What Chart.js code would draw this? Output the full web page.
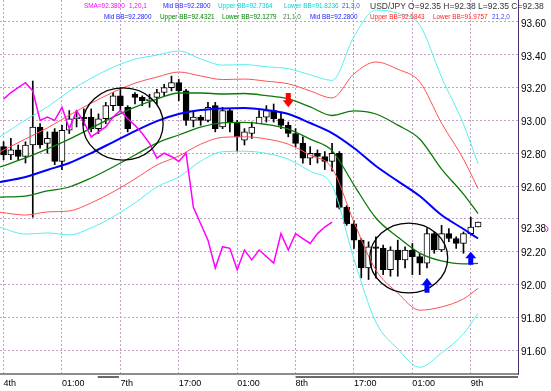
<!DOCTYPE html>
<html>
<head>
<meta charset="utf-8">
<title>USD/JPY H1 Bollinger</title>
<script src="https://cdn.jsdelivr.net/npm/chart.js@4.4.1/dist/chart.umd.min.js"></script>
<style>
  body { margin: 0; background: #fff; }
  #wrap { position: relative; width: 551px; height: 391px; overflow: hidden; }
  #chart { position: absolute; left: 0; top: 0; }
  .lg { position: absolute; font-family: "Liberation Sans", Arial, sans-serif; font-size: 6.4px; line-height: 8px; white-space: nowrap; }
</style>
</head>
<body>
<div id="wrap">
  <canvas id="chart" width="551" height="391"></canvas>
  <span class="lg" style="left:84px;top:2px;color:#ff00ff">SMA=92.3800</span>
  <span class="lg" style="left:129px;top:2px;color:#ff00ff">1,20,1</span>
  <span class="lg" style="left:163px;top:2px;color:#2020ff">Mid BB=92.2800</span>
  <span class="lg" style="left:218px;top:2px;color:#00d4d4">Upper BB=92.7364</span>
  <span class="lg" style="left:284px;top:2px;color:#00d4d4">Lower BB=91.8236</span>
  <span class="lg" style="left:342px;top:2px;color:#4040ff">21,3,0</span>
  <span class="lg" style="left:370px;top:2px;color:#333;font-size:8.5px">USD/JPY O=92.35 H=92.38 L=92.35 C=92.38</span>
  <span class="lg" style="left:104px;top:13px;color:#2020ff">Mid BB=92.2800</span>
  <span class="lg" style="left:160px;top:13px;color:#008000">Upper BB=92.4321</span>
  <span class="lg" style="left:222px;top:13px;color:#008000">Lower BB=92.1279</span>
  <span class="lg" style="left:283px;top:13px;color:#408040">21,1,0</span>
  <span class="lg" style="left:310px;top:13px;color:#2020ff">Mid BB=92.2800</span>
  <span class="lg" style="left:370px;top:13px;color:#ff2020">Upper BB=92.5843</span>
  <span class="lg" style="left:433px;top:13px;color:#ff2020">Lower BB=91.9757</span>
  <span class="lg" style="left:492px;top:13px;color:#4040ff">21,2,0</span>
</div>
<script>
// hourly candles, index 0 sits on the "4th" grid line
const opens = [92.84, 92.79, 92.82, 92.78, 92.85, 92.96, 92.86, 92.93, 92.75, 92.94,
  93.01, 93.02, 93.02, 92.95, 93.01, 93.09, 93.15, 93.08, 93.16, 93.14,
  93.12, 93.14, 93.17, 93.20, 93.23, 93.18, 93.00, 93.02, 93.00, 93.09,
  92.96, 93.06, 92.99, 92.88, 92.92, 92.98, 93.02, 93.06, 93.01, 92.97,
  92.92, 92.86, 92.77, 92.80, 92.78, 92.75, 92.80, 92.47, 92.37, 92.27,
  92.10, 92.23, 92.22, 92.09, 92.21, 92.15, 92.21, 92.17, 92.13, 92.31,
  92.21, 92.31, 92.28, 92.25, 92.31, 92.35];
const highs = [92.87, 92.89, 92.85, 92.87, 93.24, 92.98, 92.93, 92.95, 92.97, 93.06,
  93.06, 93.07, 93.07, 93.04, 93.11, 93.17, 93.20, 93.09, 93.17, 93.15,
  93.16, 93.19, 93.22, 93.27, 93.25, 93.19, 93.05, 93.03, 93.11, 93.11,
  93.08, 93.07, 93.00, 92.95, 92.99, 93.06, 93.09, 93.10, 93.05, 92.99,
  92.95, 92.90, 92.84, 92.82, 92.81, 92.86, 92.81, 92.48, 92.39, 92.28,
  92.26, 92.29, 92.24, 92.23, 92.27, 92.23, 92.25, 92.19, 92.34, 92.32,
  92.36, 92.34, 92.29, 92.32, 92.41, 92.38];
const lows = [92.76, 92.76, 92.76, 92.74, 92.41, 92.83, 92.80, 92.73, 92.70, 92.92,
  92.96, 92.97, 92.93, 92.92, 92.98, 93.06, 93.06, 92.93, 93.10, 93.09,
  93.08, 93.10, 93.15, 93.18, 93.12, 92.97, 92.96, 92.97, 92.99, 92.93,
  92.95, 92.93, 92.81, 92.85, 92.89, 92.98, 92.99, 92.99, 92.95, 92.90,
  92.84, 92.74, 92.73, 92.74, 92.70, 92.69, 92.46, 92.36, 92.22, 92.04,
  92.03, 92.04, 92.06, 92.05, 92.05, 92.10, 92.06, 92.06, 92.10, 92.19,
  92.20, 92.26, 92.22, 92.19, 92.30, 92.35];
const closes = [92.79, 92.82, 92.78, 92.85, 92.96, 92.85, 92.89, 92.75, 92.94, 93.01,
  93.02, 93.01, 92.95, 93.01, 93.09, 93.15, 93.09, 92.95, 93.14, 93.12,
  93.13, 93.17, 93.20, 93.23, 93.18, 93.00, 93.02, 93.00, 93.08, 92.95,
  93.06, 92.99, 92.90, 92.93, 92.96, 93.02, 93.06, 93.01, 92.97, 92.92,
  92.86, 92.77, 92.80, 92.78, 92.75, 92.80, 92.47, 92.37, 92.27, 92.10,
  92.23, 92.22, 92.09, 92.21, 92.15, 92.21, 92.17, 92.13, 92.31, 92.21,
  92.31, 92.28, 92.25, 92.31, 92.35, 92.38];

// magenta SMA(1) drawn 20 bars back, one value per bar from index 0
const smaShifted = [93.13, 93.17, 93.20, 93.23, 93.18, 93.00, 93.02, 93.00, 93.08, 92.95,
  93.06, 92.99, 92.90, 92.93, 92.96, 93.02, 93.06, 93.01, 92.97, 92.92,
  92.86, 92.77, 92.80, 92.78, 92.75, 92.80, 92.47, 92.37, 92.27, 92.10,
  92.23, 92.22, 92.09, 92.21, 92.15, 92.21, 92.17, 92.13, 92.31, 92.21,
  92.31, 92.28, 92.25, 92.31, 92.35, 92.38];

// bollinger lines (21 bars, 1/2/3 dev) read every third bar
const bandIdx = [-0.5, 3, 6, 9, 12, 15, 18, 21, 24, 27, 30, 33, 36, 39, 42, 45, 48, 51, 54, 57, 60, 63, 65];
const bbMid = [92.624, 92.655, 92.698, 92.740, 92.801, 92.868, 92.935, 92.996, 93.039, 93.063, 93.073, 93.076,
  93.063, 93.039, 92.984, 92.923, 92.832, 92.722, 92.630, 92.539, 92.423, 92.338, 92.280];
const bbUp1 = [92.716, 92.771, 92.826, 92.886, 92.953, 93.020, 93.081, 93.130, 93.167, 93.167, 93.161, 93.164,
  93.151, 93.131, 93.082, 93.030, 93.058, 93.039, 92.971, 92.887, 92.703, 92.551, 92.432];
const bbLo1 = [92.532, 92.539, 92.570, 92.594, 92.649, 92.716, 92.789, 92.862, 92.911, 92.959, 92.985, 92.988,
  92.975, 92.947, 92.886, 92.816, 92.606, 92.405, 92.289, 92.191, 92.143, 92.125, 92.128];
const bbUp2 = [92.808, 92.887, 92.954, 93.032, 93.105, 93.172, 93.227, 93.264, 93.295, 93.271, 93.249, 93.252,
  93.239, 93.223, 93.180, 93.137, 93.284, 93.356, 93.312, 93.235, 92.983, 92.764, 92.584];
const bbLo2 = [92.440, 92.423, 92.442, 92.448, 92.497, 92.564, 92.643, 92.728, 92.783, 92.855, 92.897, 92.900,
  92.887, 92.855, 92.788, 92.709, 92.380, 92.088, 91.948, 91.843, 91.863, 91.912, 91.976];
const bbUp3 = [92.900, 93.003, 93.082, 93.178, 93.257, 93.324, 93.373, 93.398, 93.423, 93.375, 93.337, 93.340,
  93.327, 93.315, 93.278, 93.244, 93.510, 93.673, 93.653, 93.583, 93.263, 92.977, 92.736];
const bbLo3 = [92.348, 92.307, 92.314, 92.302, 92.345, 92.412, 92.497, 92.594, 92.655, 92.751, 92.809, 92.812,
  92.799, 92.763, 92.690, 92.602, 92.154, 91.771, 91.607, 91.495, 91.583, 91.699, 91.824];

const tickIdx = [0, 8, 16, 24, 32, 40, 48, 56, 64];
const tickText = ['4th', '01:00', '7th', '17:00', '01:00', '8th', '17:00', '01:00', '9th'];
const priceTicks = [91.6, 91.8, 92.0, 92.2, 92.4, 92.6, 92.8, 93.0, 93.2, 93.4, 93.6];
const lastPrice = 92.38;

// hand drawn marks on the chart, in bar index / price units
const circles = [
  { i: 16.36, p: 92.978, ri: 5.5, rp: 0.22 },
  { i: 55.5, p: 92.161, ri: 5.34, rp: 0.213 }
];
const arrows = [
  { i: 39, tip: 93.08, base: 93.167, color: '#ff0000' },
  { i: 58, tip: 92.04, base: 91.95, color: '#0000ff' },
  { i: 64, tip: 92.20, base: 92.12, color: '#0000ff' }
];
const sessions = [[12.9, 15.8], [40, 70.5]];

const isUp = i => closes[i] >= opens[i];

function bandLine(values, color, width) {
    return {
        type: 'line',
        data: values.map((v, k) => ({ x: bandIdx[k], y: v })),
        borderColor: color,
        borderWidth: width,
        pointRadius: 0,
        cubicInterpolationMode: 'monotone',
        order: 0
    };
}

const marks = {
    id: 'marks',
    afterDatasetsDraw(chart) {
        const { ctx, scales: { x, y } } = chart;
        ctx.save();
        ctx.strokeStyle = '#000';
        ctx.lineWidth = 1.3;
        circles.forEach(c => {
            const cx = x.getPixelForValue(c.i);
            const cy = y.getPixelForValue(c.p);
            const rx = x.getPixelForValue(c.i + c.ri) - cx;
            const ry = cy - y.getPixelForValue(c.p + c.rp);
            ctx.beginPath();
            ctx.ellipse(cx, cy, rx, ry, 0, 0, Math.PI * 2);
            ctx.stroke();
        });

        arrows.forEach(a => {
            const ax = x.getPixelForValue(a.i);
            const yt = y.getPixelForValue(a.tip);
            const yb = y.getPixelForValue(a.base);
            const s = yb > yt ? 1 : -1;
            const head = Math.abs(yb - yt) * 0.5;
            const hw = 5.5, sw = 2.5;
            ctx.beginPath();
            ctx.moveTo(ax, yt);
            ctx.lineTo(ax + hw, yt + s * head);
            ctx.lineTo(ax + sw, yt + s * head);
            ctx.lineTo(ax + sw, yb);
            ctx.lineTo(ax - sw, yb);
            ctx.lineTo(ax - sw, yt + s * head);
            ctx.lineTo(ax - hw, yt + s * head);
            ctx.closePath();
            ctx.fillStyle = a.color;
            ctx.fill();
        });
        ctx.restore();
    },
    afterDraw(chart) {
        const { ctx, chartArea, scales: { x, y } } = chart;
        ctx.save();
        // current price on the right axis
        ctx.font = '10px "Liberation Sans", Arial, sans-serif';
        ctx.fillStyle = '#000';
        ctx.textBaseline = 'middle';
        ctx.fillText(lastPrice.toFixed(2), chartArea.right + 3, y.getPixelForValue(lastPrice) + 7);
        ctx.strokeStyle = '#ff00ff';
        ctx.lineWidth = 1;
        ctx.beginPath();
        ctx.arc(chartArea.right + 27, y.getPixelForValue(lastPrice) + 7, 3, -Math.PI / 2.5, Math.PI / 2.5);
        ctx.stroke();
        // session bars under the time axis
        ctx.fillStyle = '#6a6a6a';
        sessions.forEach(s => {
            const x0 = x.getPixelForValue(s[0]);
            const x1 = Math.min(x.getPixelForValue(s[1]), chartArea.right);
            ctx.fillRect(x0, chartArea.bottom + 2, x1 - x0, 2);
        });
        ctx.restore();
    }
};

Chart.defaults.font.family = '"Liberation Sans", Arial, sans-serif';

const chart = new Chart(document.getElementById('chart').getContext('2d'), {
    type: 'bar',
    data: {
        datasets: [
            {
                type: 'line',
                data: smaShifted.map((v, i) => ({ x: i, y: v })),
                borderColor: '#ff00ff',
                borderWidth: 1.5,
                pointRadius: 0,
                order: 0
            },
            bandLine(bbUp3, '#55eeee', 1),
            bandLine(bbLo3, '#55eeee', 1),
            bandLine(bbUp2, '#ff5050', 1),
            bandLine(bbLo2, '#ff5050', 1),
            bandLine(bbUp1, '#0a7a0a', 1.3),
            bandLine(bbLo1, '#0a7a0a', 1.3),
            bandLine(bbMid, '#0000ff', 2),
            {
                // candle bodies
                data: opens.map((o, i) => ({ x: i, y: [o, closes[i]] })),
                backgroundColor: ctx => isUp(ctx.dataIndex) ? '#ffffff' : '#000000',
                borderColor: '#000',
                borderWidth: 1,
                borderSkipped: false,
                barThickness: 6,
                minBarLength: 1,
                grouped: false,
                order: 1
            },
            {
                // wicks
                data: highs.map((h, i) => ({ x: i, y: [lows[i], h] })),
                backgroundColor: '#000',
                borderWidth: 0,
                barThickness: 1,
                grouped: false,
                order: 2
            }
        ]
    },
    options: {
        responsive: false,
        devicePixelRatio: 1,
        animation: false,
        events: [],
        layout: { padding: 0 },
        plugins: {
            legend: { display: false },
            tooltip: { enabled: false }
        },
        scales: {
            x: {
                type: 'linear',
                min: -0.49,
                max: 70.47,
                offset: false,
                afterBuildTicks: s => { s.ticks = tickIdx.map(v => ({ value: v })); },
                afterFit: s => { s.height = 17; s.paddingLeft = 0; s.paddingRight = 0; },
                ticks: {
                    callback: (v, i) => tickText[i],
                    align: 'start',
                    autoSkip: false,
                    maxRotation: 0,
                    color: '#000',
                    font: { size: 9 },
                    padding: 4
                },
                grid: { color: '#c4a4c4', drawTicks: false, offset: false },
                border: { color: '#8c8c8c', width: 2, dash: [2, 2] }
            },
            y: {
                type: 'linear',
                position: 'right',
                min: 91.454,
                max: 93.734,
                beginAtZero: false,
                afterBuildTicks: s => { s.ticks = priceTicks.map(v => ({ value: v })); },
                afterFit: s => { s.width = 33; s.paddingTop = 0; s.paddingBottom = 0; },
                ticks: {
                    callback: v => Math.abs(v - 92.4) < 1e-6 ? '' : v.toFixed(2),
                    color: '#000',
                    font: { size: 10 },
                    padding: 3,
                    labelOffset: 2
                },
                grid: { color: '#c4a4c4', drawTicks: false },
                border: { color: '#503070', width: 1, dash: [2, 2] }
            }
        }
    },
    plugins: [marks]
});
</script>
</body>
</html>
